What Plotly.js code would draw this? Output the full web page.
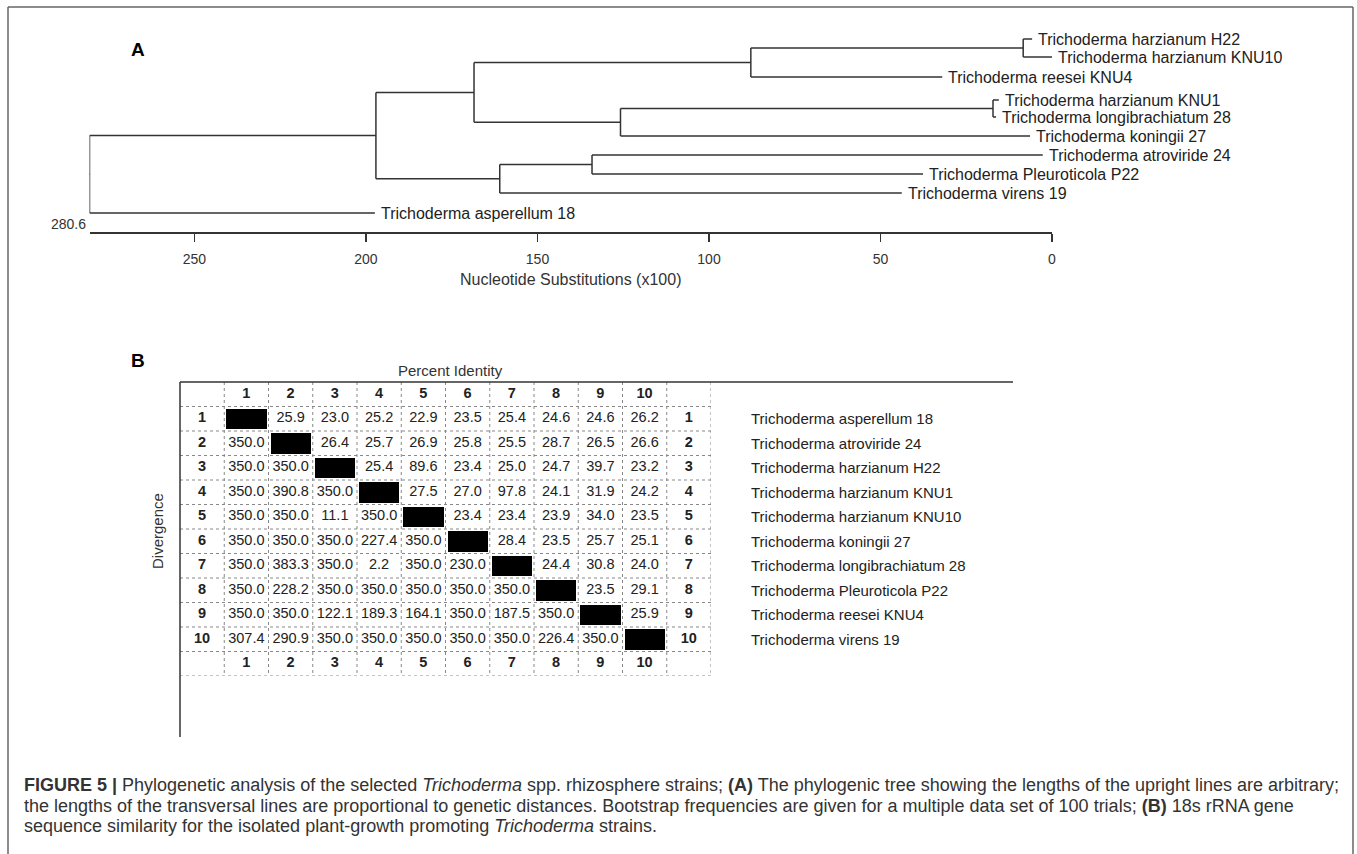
<!DOCTYPE html>
<html>
<head>
<meta charset="utf-8">
<script src="https://cdn.plot.ly/plotly-3.0.1.min.js"></script>
<style>html,body{margin:0;padding:0;background:#fff;}#chart{width:1357px;height:854px;}</style>
</head>
<body>
<div id="chart"></div>
<script>
// ---------------- DATA: phylogenetic tree (panel A) ----------------
const leafNames = [
  'Trichoderma harzianum H22', 'Trichoderma harzianum KNU10', 'Trichoderma reesei KNU4',
  'Trichoderma harzianum KNU1', 'Trichoderma longibrachiatum 28', 'Trichoderma koningii 27',
  'Trichoderma atroviride 24', 'Trichoderma Pleuroticola P22', 'Trichoderma virens 19',
  'Trichoderma asperellum 18'
];
// distance (x100 substitutions) at which each leaf branch ends
const leafDist = [5.8, 0, 32, 15.5, 16.3, 6.4, 2.7, 37.6, 43.8, 197.4];
// vertical slot of each leaf (arbitrary upright spacing as drawn)
const leafSlot = [39, 57, 77, 100, 117, 136, 155, 174, 193, 213];
// internal nodes: id, distance, children (L# = leaf index)
const nodeIds = ['F', 'D', 'G', 'E', 'B', 'H', 'C', 'A', 'root'];
const nodeDist = [8.4, 87.8, 17.2, 125.8, 168.5, 134.1, 161.0, 197.1, 280.6];
const nodeChildren = [['L0','L1'], ['F','L2'], ['L3','L4'], ['G','L5'], ['D','E'], ['L6','L7'], ['H','L8'], ['B','C'], ['A','L9']];
const treeTicks = [250, 200, 150, 100, 50, 0];
const rootLabel = '280.6';

// ---------------- DATA: identity / divergence matrix (panel B) ----------------
const tableNames = [
  'Trichoderma asperellum 18', 'Trichoderma atroviride 24', 'Trichoderma harzianum H22',
  'Trichoderma harzianum KNU1', 'Trichoderma harzianum KNU10', 'Trichoderma koningii 27',
  'Trichoderma longibrachiatum 28', 'Trichoderma Pleuroticola P22', 'Trichoderma reesei KNU4',
  'Trichoderma virens 19'
];
const row1  = [null, 25.9, 23.0, 25.2, 22.9, 23.5, 25.4, 24.6, 24.6, 26.2];
const row2  = [350.0, null, 26.4, 25.7, 26.9, 25.8, 25.5, 28.7, 26.5, 26.6];
const row3  = [350.0, 350.0, null, 25.4, 89.6, 23.4, 25.0, 24.7, 39.7, 23.2];
const row4  = [350.0, 390.8, 350.0, null, 27.5, 27.0, 97.8, 24.1, 31.9, 24.2];
const row5  = [350.0, 350.0, 11.1, 350.0, null, 23.4, 23.4, 23.9, 34.0, 23.5];
const row6  = [350.0, 350.0, 350.0, 227.4, 350.0, null, 28.4, 23.5, 25.7, 25.1];
const row7  = [350.0, 383.3, 350.0, 2.2, 350.0, 230.0, null, 24.4, 30.8, 24.0];
const row8  = [350.0, 228.2, 350.0, 350.0, 350.0, 350.0, 350.0, null, 23.5, 29.1];
const row9  = [350.0, 350.0, 122.1, 189.3, 164.1, 350.0, 187.5, 350.0, null, 25.9];
const row10 = [307.4, 290.9, 350.0, 350.0, 350.0, 350.0, 350.0, 226.4, 350.0, null];
const matrixRows = [row1, row2, row3, row4, row5, row6, row7, row8, row9, row10];

// ---------------- layout helpers ----------------
const W = 1357, H = 854;
const px = x => x / W;
const py = y => 1 - y / H;
const ink = '#333333';

// ---------------- build tree geometry ----------------
const pos = {};
leafNames.forEach((n, i) => { pos['L' + i] = {x: leafDist[i], y: leafSlot[i]}; });
const tx = [], ty = [];
nodeIds.forEach((id, k) => {
  const kids = nodeChildren[k].map(c => pos[c]);
  const ys = kids.map(p => p.y);
  const ymid = (Math.min(...ys) + Math.max(...ys)) / 2;
  pos[id] = {x: nodeDist[k], y: ymid};
  tx.push(nodeDist[k], nodeDist[k], null); ty.push(Math.min(...ys), Math.max(...ys), null);
  kids.forEach(p => { tx.push(nodeDist[k], p.x, null); ty.push(p.y, p.y, null); });
});
const root = pos['root'];
tx.push(root.x, root.x + 1.8, null); ty.push(root.y, root.y, null);

const traces = [];
traces.push({type: 'scatter', mode: 'lines', x: tx, y: ty, xaxis: 'x', yaxis: 'y',
  line: {color: ink, width: 1.5}, cliponaxis: false, hoverinfo: 'skip', showlegend: false});

// ---------------- table geometry ----------------
const nR = 12, nC = 12;
const z = [], cellX = [], cellY = [], cellT = [], hX = [], hY = [], hT = [];
for (let r = 0; r < nR; r++) {
  const zr = [];
  for (let c = 0; c < nC; c++) zr.push((r >= 1 && r <= 10 && r === c) ? 1 : null);
  z.push(zr);
}
for (let i = 0; i < 10; i++) {
  hX.push(i + 1); hY.push(0); hT.push(String(i + 1));
  hX.push(i + 1); hY.push(11); hT.push(String(i + 1));
  hX.push(0); hY.push(i + 1); hT.push(String(i + 1));
  hX.push(11); hY.push(i + 1); hT.push(String(i + 1));
  matrixRows[i].forEach((v, j) => {
    if (v !== null) { cellX.push(j + 1); cellY.push(i + 1); cellT.push(v.toFixed(1)); }
  });
}
traces.push({type: 'heatmap', z: z, x: [...Array(nC).keys()], y: [...Array(nR).keys()],
  xaxis: 'x2', yaxis: 'y2', colorscale: [[0, '#000'], [1, '#000']], zmin: 0, zmax: 1,
  showscale: false, xgap: 4, ygap: 4, hoverinfo: 'skip'});
traces.push({type: 'scatter', mode: 'text', x: cellX, y: cellY, text: cellT, xaxis: 'x2', yaxis: 'y2',
  textfont: {family: 'Liberation Sans, Arial, sans-serif', size: 14.5, color: '#222'},
  textposition: 'middle center', hoverinfo: 'skip', showlegend: false, cliponaxis: false});
traces.push({type: 'scatter', mode: 'text', x: hX, y: hY, text: hT, xaxis: 'x2', yaxis: 'y2',
  textfont: {family: 'Liberation Sans, Arial, sans-serif', size: 14.5, color: '#222', weight: 'bold'},
  textposition: 'middle center', hoverinfo: 'skip', showlegend: false, cliponaxis: false});

// ---------------- shapes ----------------
const shapes = [];
for (let c = 1; c <= nC; c++) {
  shapes.push({type: 'line', xref: 'x2', yref: 'y2', x0: c - 0.5, x1: c - 0.5, y0: -0.5, y1: nR - 0.5,
    line: {color: '#888', width: 1, dash: 'dot'}});
}
for (let r = 1; r <= nR; r++) {
  shapes.push({type: 'line', xref: 'x2', yref: 'y2', x0: -0.5, x1: nC - 0.5, y0: r - 0.5, y1: r - 0.5,
    line: {color: '#888', width: 1, dash: 'dot'}});
}
// panel B frame lines
shapes.push({type: 'line', xref: 'paper', yref: 'paper', x0: px(180), x1: px(1013), y0: py(382), y1: py(382), line: {color: ink, width: 1.5}});
shapes.push({type: 'line', xref: 'paper', yref: 'paper', x0: px(180), x1: px(180), y0: py(382), y1: py(737), line: {color: ink, width: 1.5}});
// figure frame
shapes.push({type: 'line', xref: 'paper', yref: 'paper', x0: px(8), x1: px(1353), y0: py(7), y1: py(7), line: {color: '#666', width: 1.5}});
shapes.push({type: 'line', xref: 'paper', yref: 'paper', x0: px(8), x1: px(8), y0: py(7), y1: py(854), line: {color: '#666', width: 1.5}});
shapes.push({type: 'line', xref: 'paper', yref: 'paper', x0: px(1353), x1: px(1353), y0: py(7), y1: py(854), line: {color: '#666', width: 1.5}});

// ---------------- annotations ----------------
const F = 'Liberation Sans, Arial, sans-serif';
const ann = [];
leafNames.forEach((n, i) => {
  ann.push({xref: 'x', yref: 'y', x: leafDist[i], y: leafSlot[i], text: n, showarrow: false,
    xanchor: 'left', yanchor: 'middle', xshift: 4, font: {family: F, size: 16, color: '#222'}});
});
ann.push({xref: 'x', yref: 'y', x: nodeDist[nodeDist.length - 1], y: 232, text: rootLabel, showarrow: false,
  xanchor: 'right', yanchor: 'bottom', xshift: -2, yshift: -2, font: {family: F, size: 14, color: ink}});
ann.push({xref: 'paper', yref: 'paper', x: (px(89.5) + px(1052)) / 2, y: py(279), text: 'Nucleotide Substitutions (x100)',
  showarrow: false, xanchor: 'center', yanchor: 'middle', font: {family: F, size: 16, color: ink}});
ann.push({xref: 'paper', yref: 'paper', x: px(138), y: py(50), text: '<b>A</b>', showarrow: false,
  xanchor: 'center', yanchor: 'middle', font: {family: F, size: 19, color: '#000'}});
ann.push({xref: 'paper', yref: 'paper', x: px(138), y: py(360), text: '<b>B</b>', showarrow: false,
  xanchor: 'center', yanchor: 'middle', font: {family: F, size: 19, color: '#000'}});
ann.push({xref: 'paper', yref: 'paper', x: px(450), y: py(371), text: 'Percent Identity', showarrow: false,
  xanchor: 'center', yanchor: 'middle', font: {family: F, size: 15, color: ink}});
ann.push({xref: 'paper', yref: 'paper', x: px(157), y: py(531), text: 'Divergence', showarrow: false, textangle: -90,
  xanchor: 'center', yanchor: 'middle', font: {family: F, size: 15, color: ink}});
tableNames.forEach((n, i) => {
  ann.push({xref: 'paper', yref: 'y2', x: px(749), y: i + 1, text: n, showarrow: false,
    xanchor: 'left', yanchor: 'middle', font: {family: F, size: 15, color: '#222'}});
});
const capLines = [
  '<b>FIGURE 5 |</b> Phylogenetic analysis of the selected <i>Trichoderma</i> spp. rhizosphere strains; <b>(A)</b> The phylogenic tree showing the lengths of the upright lines are arbitrary;',
  'the lengths of the transversal lines are proportional to genetic distances. Bootstrap frequencies are given for a multiple data set of 100 trials; <b>(B)</b> 18s rRNA gene',
  'sequence similarity for the isolated plant-growth promoting <i>Trichoderma</i> strains.'
];
const capY = [785, 806, 826];
capLines.forEach((t, i) => {
  ann.push({xref: 'paper', yref: 'paper', x: px(22), y: py(capY[i]), text: t, showarrow: false,
    xanchor: 'left', yanchor: 'middle', align: 'left', font: {family: F, size: 18, color: ink}});
});

// ---------------- layout ----------------
const layout = {
  width: W, height: H, margin: {l: 0, r: 0, t: 0, b: 0},
  paper_bgcolor: '#fff', plot_bgcolor: 'rgba(0,0,0,0)', showlegend: false,
  xaxis: {domain: [px(89.5), px(1052)], range: [280.6, 0], anchor: 'y', showline: true, linecolor: ink, linewidth: 1.5,
    ticks: 'outside', tickvals: treeTicks, ticklen: 8, tickwidth: 1.5, tickcolor: ink,
    tickfont: {family: F, size: 14, color: ink}, ticklabelstandoff: 6, showgrid: false, zeroline: false, fixedrange: true},
  yaxis: {domain: [py(232), py(30)], range: [232, 30], visible: false, fixedrange: true},
  xaxis2: {domain: [px(180), px(711)], range: [-0.5, nC - 0.5], anchor: 'y2', visible: false, fixedrange: true},
  yaxis2: {domain: [py(676), py(382)], range: [nR - 0.5, -0.5], anchor: 'x2', visible: false, fixedrange: true},
  shapes: shapes, annotations: ann
};
Plotly.newPlot('chart', traces, layout, {staticPlot: true, displayModeBar: false});
</script>
</body>
</html>
